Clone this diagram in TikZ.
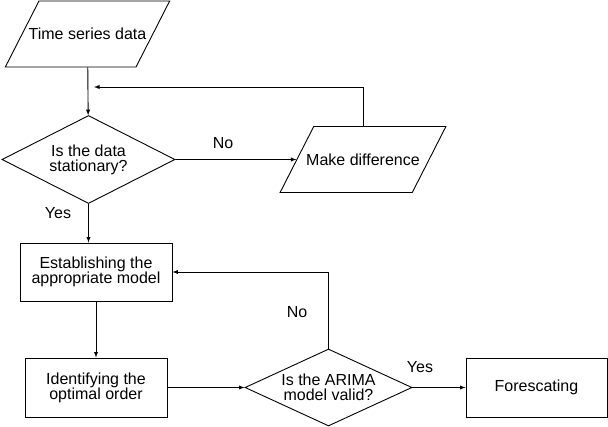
\documentclass[tikz,border=0pt]{standalone}
\usepackage{fontspec}
\setmainfont{Liberation Sans}
\usetikzlibrary{arrows,shapes.geometric,calc}

\begin{document}
\begin{tikzpicture}[>=latex,x=1pt,y=-1pt,line width=0.9pt,
	every node/.style={font=\fontsize{16}{15}\selectfont,align=center},
	io/.style={draw,trapezium,trapezium left angle=63,trapezium right angle=117,
		text height=11.5,text depth=0,inner ysep=27.25,inner xsep=#1},
	decision/.style={draw,diamond,aspect=2,inner sep=0pt},
	process/.style={draw,rectangle,inner sep=0pt}]

\useasboundingbox (0,0) rectangle (608,427);

% nodes
\node[io=-10.3] (data) at (87.5,34) {Time series data};
\node[decision,minimum width=173,minimum height=88] (stat) at (88.5,159.5)
	{Is the data\\stationary?};
\node[io=-7.5] (diff) at (363,159.5) {Make difference};
\node[process,minimum width=152,minimum height=58] (model) at (96,272)
	{Establishing the\\appropriate model};
\node[process,minimum width=142,minimum height=59] (order) at (96,387.5)
	{Identifying the\\optimal order};
\node[decision,minimum width=167,minimum height=77] (valid) at (328.5,387.5)
	{Is the ARIMA\\model valid?};
\node[process,minimum width=141,minimum height=59] (fore) at (536.5,387.5)
	{Forescating};

\coordinate (merge) at (94,87);

% connectors
\draw[->] (data) -- (stat);
\draw[->] (stat) -- (diff);
\draw[->] (diff.north) |- (merge);
\draw[->] (stat.south) -- (stat.south |- model.north);
\draw[->] (model) -- (order);
\draw[->] (order) -- (valid);
\draw[->] (valid) -- (fore);
\draw[->] (valid.north) |- (model.east);

% labels
\node (no1) at (223,143) {No};
\node (yes1) at (58,213) {Yes};
\node (no2) at (297,312) {No};
\node (yes2) at (420,367) {Yes};

\end{tikzpicture}
\end{document}
